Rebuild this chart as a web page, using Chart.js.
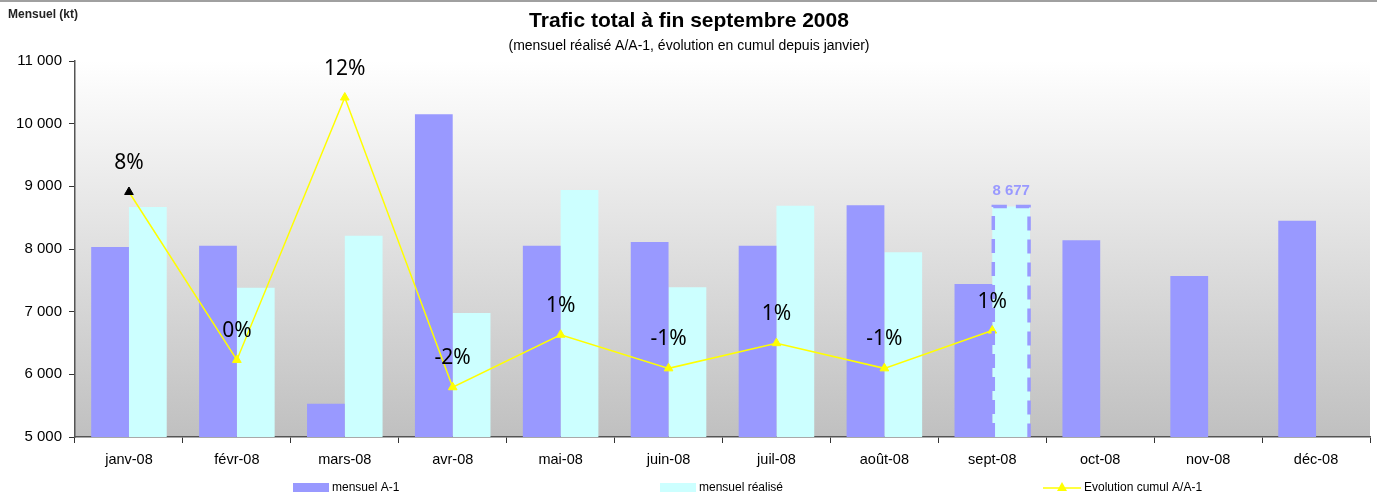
<!DOCTYPE html>
<html>
<head>
<meta charset="utf-8">
<script src="https://cdn.jsdelivr.net/npm/chart.js@4/dist/chart.umd.min.js"></script>
<style>
    html, body { margin: 0; padding: 0; background: #fff; }
    #wrap { width: 1377px; height: 495px; position: relative; }
</style>
</head>
<body>
<div id="wrap"><canvas id="traficChart" width="1377" height="495"></canvas></div>
<script>
// Data
const months = ['janv-08', 'févr-08', 'mars-08', 'avr-08', 'mai-08', 'juin-08',
    'juil-08', 'août-08', 'sept-08', 'oct-08', 'nov-08', 'déc-08'];
const mensuelA1 = [8030, 8050, 5530, 10150, 8050, 8110, 8050, 8700, 7440, 8140, 7570, 8450];
const mensuelRealise = [8670, 7380, 8210, 6980, 8940, 7390, 8690, 7950, 8677, null, null, null];
const evolutionCumul = [8.0, 0.0, 12.5, -1.3, 1.2, -0.4, 0.8, -0.4, 1.4, null, null, null];
const evolutionLabels = ['8%', '0%', '12%', '-2%', '1%', '-1%', '1%', '-1%', '1%'];
const yTicks = [5000, 6000, 7000, 8000, 9000, 10000, 11000];

const colors = {
    a1: '#9999ff',
    realise: '#ccffff',
    evolution: '#ffff00'
};

const fmtKt = v => String(v).replace(/\B(?=(\d{3})+(?!\d))/g, ' ');

// Background gradient, titles, labels, legend
const decorPlugin = {
    id: 'decor',
    beforeDraw(chart) {
        const { ctx, chartArea: a } = chart;
        ctx.save();
        const g = ctx.createLinearGradient(0, a.top, 0, a.bottom);
        g.addColorStop(0, '#ffffff');
        g.addColorStop(1, '#c0c0c0');
        ctx.fillStyle = g;
        ctx.fillRect(a.left, a.top, a.right - a.left, a.bottom - a.top);
        // top border of the frame
        ctx.fillStyle = '#a0a0a0';
        ctx.fillRect(0, 0, chart.width, 2);
        ctx.restore();
    },
    afterDraw(chart) {
        const { ctx, chartArea: a } = chart;
        ctx.save();
        // titles
        ctx.fillStyle = '#000';
        ctx.textAlign = 'center';
        ctx.textBaseline = 'middle';
        ctx.font = 'bold 21px "Liberation Sans", Arial, sans-serif';
        ctx.fillText('Trafic total à fin septembre 2008', 689, 21);
        ctx.font = '14px "Liberation Sans", Arial, sans-serif';
        ctx.fillText('(mensuel réalisé A/A-1, évolution en cumul depuis janvier)', 689, 46);
        ctx.textAlign = 'left';
        ctx.font = 'bold 12px "Liberation Sans", Arial, sans-serif';
        ctx.fillStyle = '#222';
        ctx.fillText('Mensuel (kt)', 8, 15);

        // highlighted sept bar (dashed outline + value)
        const metaR = chart.getDatasetMeta(1);
        const bar = metaR.data[8];
        if (bar) {
            const w = bar.width;
            const x0 = bar.x - w / 2, x1 = bar.x + w / 2;
            ctx.strokeStyle = colors.a1;
            ctx.lineWidth = 3.5;
            ctx.setLineDash([14, 9]);
            ctx.beginPath();
            ctx.moveTo(x0 + 1, a.bottom);
            ctx.lineTo(x0 + 1, bar.y);
            ctx.lineTo(x1 - 1, bar.y);
            ctx.lineTo(x1 - 1, a.bottom);
            ctx.stroke();
            ctx.setLineDash([]);
            ctx.fillStyle = colors.a1;
            ctx.textAlign = 'center';
            ctx.font = 'bold 15px "Liberation Sans", Arial, sans-serif';
            ctx.fillText(fmtKt(mensuelRealise[8]), bar.x, bar.y - 16);
        }

        // evolution labels
        const metaL = chart.getDatasetMeta(2);
        ctx.fillStyle = '#000';
        ctx.textAlign = 'center';
        ctx.font = '21px "Noto Sans", "Open Sans", sans-serif';
        evolutionLabels.forEach((txt, i) => {
            const p = metaL.data[i];
            if (p) ctx.fillText(txt, p.x, p.y - 29);
        });

        // legend
        ctx.font = '12px "Liberation Sans Narrow", "Liberation Sans", Arial, sans-serif';
        ctx.textAlign = 'left';
        ctx.fillStyle = colors.a1;
        ctx.fillRect(293, 483, 36, 9);
        ctx.fillStyle = '#000';
        ctx.fillText('mensuel A-1', 332, 488);
        ctx.fillStyle = colors.realise;
        ctx.fillRect(660, 483, 36, 9);
        ctx.fillStyle = '#000';
        ctx.fillText('mensuel réalisé', 699, 488);
        ctx.strokeStyle = colors.evolution;
        ctx.lineWidth = 1.5;
        ctx.beginPath();
        ctx.moveTo(1043, 488);
        ctx.lineTo(1081, 488);
        ctx.stroke();
        ctx.fillStyle = colors.evolution;
        ctx.beginPath();
        ctx.moveTo(1062, 482);
        ctx.lineTo(1067, 491);
        ctx.lineTo(1057, 491);
        ctx.closePath();
        ctx.fill();
        ctx.fillStyle = '#000';
        ctx.fillText('Evolution cumul A/A-1', 1084, 488);
        ctx.restore();
    }
};

const ctx = document.getElementById('traficChart').getContext('2d');
new Chart(ctx, {
    type: 'bar',
    data: {
        labels: months,
        datasets: [
            {
                label: 'mensuel A-1',
                data: mensuelA1,
                backgroundColor: colors.a1,
                categoryPercentage: 0.7,
                barPercentage: 1.0,
                order: 1
            },
            {
                label: 'mensuel réalisé',
                data: mensuelRealise,
                backgroundColor: colors.realise,
                categoryPercentage: 0.7,
                barPercentage: 1.0,
                order: 1
            },
            {
                type: 'line',
                label: 'Evolution cumul A/A-1',
                data: evolutionCumul,
                yAxisID: 'y1',
                borderColor: colors.evolution,
                borderWidth: 1.5,
                pointStyle: 'triangle',
                pointRadius: 5,
                pointBackgroundColor: evolutionCumul.map((v, i) => i === 0 ? '#000' : colors.evolution),
                pointBorderColor: evolutionCumul.map((v, i) => i === 0 ? '#000' : colors.evolution),
                pointBorderWidth: 1,
                tension: 0,
                fill: false,
                order: 0
            }
        ]
    },
    options: {
        responsive: false,
        animation: false,
        layout: { padding: { top: 61, right: 7, bottom: 18, left: 0 } },
        plugins: {
            legend: { display: false },
            tooltip: { enabled: false }
        },
        scales: {
            x: {
                offset: true,
                grid: {
                    offset: true,
                    drawOnChartArea: false,
                    drawTicks: true,
                    tickLength: 6,
                    color: '#333'
                },
                border: { color: '#555', width: 1.5 },
                ticks: {
                    color: '#000',
                    padding: 8,
                    maxRotation: 0,
                    autoSkip: false,
                    font: { family: '"Liberation Sans", Arial, sans-serif', size: 14.5 }
                },
                afterFit(scale) { scale.height = 40; }
            },
            y: {
                min: 5000,
                max: 11000,
                afterBuildTicks(scale) { scale.ticks = yTicks.map(v => ({ value: v })); },
                grid: {
                    drawOnChartArea: false,
                    drawTicks: true,
                    tickLength: 6,
                    color: '#333'
                },
                border: { color: '#555', width: 1.5 },
                ticks: {
                    color: '#000',
                    padding: 7,
                    callback: v => fmtKt(v),
                    font: { family: '"Liberation Sans", Arial, sans-serif', size: 15 }
                },
                afterFit(scale) { scale.width = 75; }
            },
            y1: {
                display: false,
                min: -3.67,
                max: 14.24
            }
        }
    },
    plugins: [decorPlugin]
});
</script>
</body>
</html>
